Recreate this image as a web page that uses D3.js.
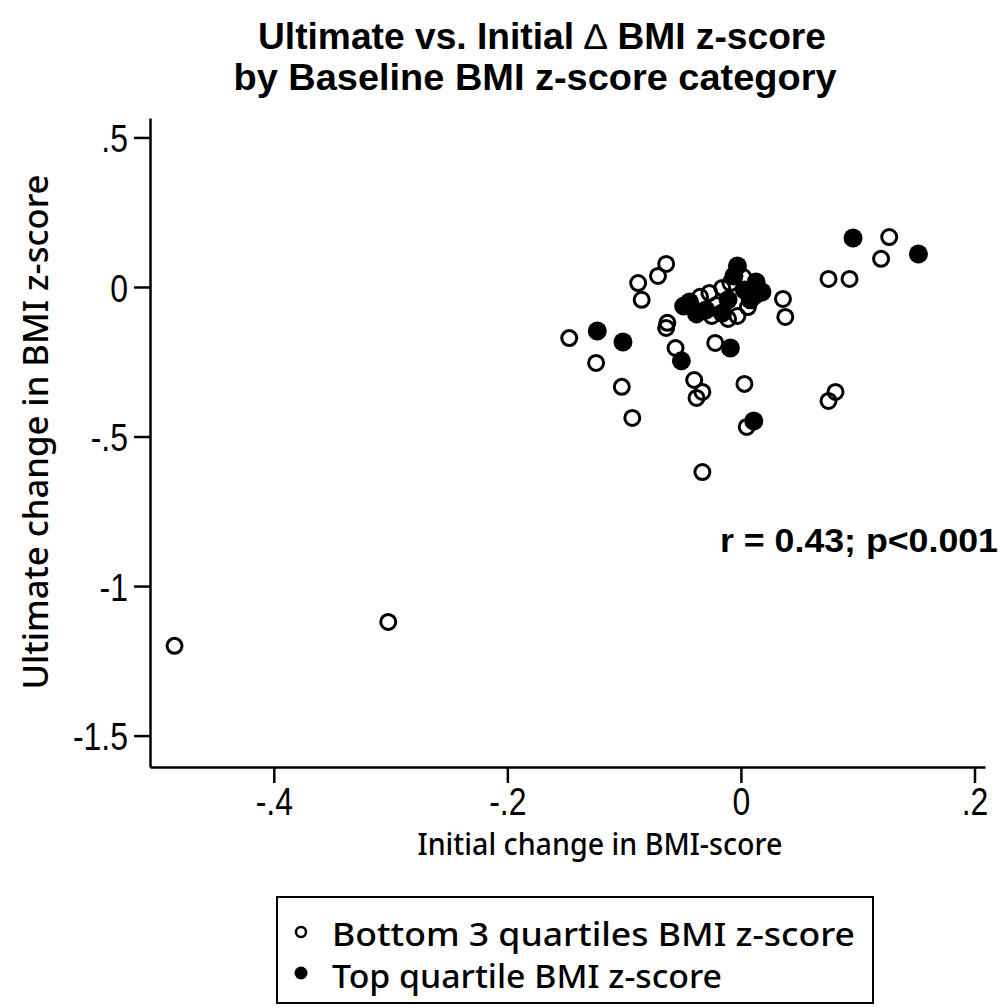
<!DOCTYPE html>
<html>
<head>
<meta charset="utf-8">
<script src="https://cdn.jsdelivr.net/npm/d3@7"></script>
<style>
  body { margin: 0; background: #fff; }
  svg { display: block; }
  .tick text { font-family: "Liberation Sans", Arial, sans-serif; font-size: 39px; fill: #000; }
  .axis path, .axis line { stroke: #000; stroke-width: 2.5; }
</style>
</head>
<body>
<div id="chart"></div>
<script>
// Bottom 3 quartiles BMI z-score (open circles)
var openX = [-0.485, -0.302, -0.147, -0.124, -0.102, -0.093, -0.088, -0.085, -0.071, -0.064,
             -0.063, -0.064, -0.056, -0.040, -0.033, -0.038, -0.033, -0.022, 0.003, 0.005,
             0.036, 0.038, 0.075, 0.093, 0.075, 0.081, 0.120, 0.127,
             -0.027, -0.035, -0.016, -0.009, 0.002, 0.006, -0.003, -0.011, -0.021, 0.012, -0.025];
var openY = [-1.20, -1.12, -0.171, -0.254, -0.334, -0.438, 0.013, -0.043, 0.037, 0.077,
             -0.120, -0.137, -0.204, -0.311, -0.351, -0.371, -0.619, -0.187, -0.324, -0.468,
             -0.040, -0.100, 0.027, 0.027, -0.381, -0.351, 0.094, 0.167,
             -0.020, -0.033, -0.003, 0.013, 0.033, -0.067, -0.097, -0.107, -0.060, -0.030, -0.097];

// Top quartile BMI z-score (filled circles)
var filledX = [-0.123, -0.101, -0.051, -0.009, 0.011, 0.096, 0.152,
               -0.003, -0.006, 0.013, 0.018, 0.003, -0.011, -0.044, -0.049, -0.038, -0.030, 0.008, -0.016];
var filledY = [-0.147, -0.184, -0.247, -0.204, -0.448, 0.164, 0.110,
               0.070, 0.037, 0.017, -0.017, -0.010, -0.043, -0.050, -0.064, -0.090, -0.077, -0.043, -0.087];

var xTicks = [-0.4, -0.2, 0, 0.2];
var yTicks = [0.5, 0, -0.5, -1, -1.5];
var legendLabels = ["Bottom 3 quartiles BMI z-score", "Top quartile BMI z-score"];

// stata style labels: .5, -.2, 0
function stataFmt(d) { return d === 0 ? "0" : String(d).replace("0.", "."); }

var svg = d3.select("#chart").append("svg")
    .attr("width", 1003)
    .attr("height", 1008);

var x = d3.scaleLinear().domain([-0.506, 0.209]).range([150, 985]);
var y = d3.scaleLinear().domain([-1.605, 0.565]).range([767, 118]);

var titleFont = '"Liberation Sans", Arial, sans-serif';
var labelFont = '"Noto Sans", "Open Sans", sans-serif';

// title
var t1 = svg.append("text")
    .attr("x", 542).attr("y", 49)
    .attr("text-anchor", "middle")
    .attr("font-family", titleFont).attr("font-weight", "bold").attr("font-size", "36px")
    .attr("textLength", 568).attr("lengthAdjust", "spacingAndGlyphs");
t1.append("tspan").text("Ultimate vs. Initial ");
t1.append("tspan").attr("font-weight", "normal").text("\u2206");
t1.append("tspan").text(" BMI z-score");

svg.append("text")
    .attr("x", 535).attr("y", 90)
    .attr("text-anchor", "middle")
    .attr("font-family", titleFont).attr("font-weight", "bold").attr("font-size", "36px")
    .attr("textLength", 603).attr("lengthAdjust", "spacingAndGlyphs")
    .text("by Baseline BMI z-score category");

// axes
var xAxis = svg.append("g")
    .attr("class", "axis")
    .attr("transform", "translate(0,767)")
    .call(d3.axisBottom(x).tickValues(xTicks).tickFormat(stataFmt).tickSize(16).tickSizeOuter(0));
xAxis.selectAll(".tick text")
    .attr("y", 48).attr("dy", 0)
    .attr("transform", "scale(0.82,1)");

var yAxis = svg.append("g")
    .attr("class", "axis")
    .attr("transform", "translate(150,0)")
    .call(d3.axisLeft(y).tickValues(yTicks).tickFormat(stataFmt).tickSize(16).tickSizeOuter(0));
yAxis.selectAll(".tick text")
    .attr("x", -22 / 0.82).attr("dy", "0.36em")
    .attr("transform", "scale(0.82,1)");

// axis titles
svg.append("text")
    .attr("x", 600).attr("y", 855)
    .attr("text-anchor", "middle")
    .attr("font-family", labelFont).attr("font-weight", 500).attr("font-size", "30px")
    .attr("textLength", 365).attr("lengthAdjust", "spacingAndGlyphs")
    .text("Initial change in BMI-score");

svg.append("text")
    .attr("transform", "translate(48,432) rotate(-90)")
    .attr("text-anchor", "middle")
    .attr("font-family", labelFont).attr("font-weight", 500).attr("font-size", "35px")
    .attr("textLength", 515).attr("lengthAdjust", "spacingAndGlyphs")
    .text("Ultimate change in BMI z-score");

// points
var openPts = openX.map(function(d, i) { return [d, openY[i]]; });
var filledPts = filledX.map(function(d, i) { return [d, filledY[i]]; });

svg.append("g").selectAll("circle")
    .data(openPts)
    .enter().append("circle")
    .attr("cx", function(d) { return x(d[0]); })
    .attr("cy", function(d) { return y(d[1]); })
    .attr("r", 7.5)
    .attr("fill", "none")
    .attr("stroke", "#000")
    .attr("stroke-width", 3);

svg.append("g").selectAll("circle")
    .data(filledPts)
    .enter().append("circle")
    .attr("cx", function(d) { return x(d[0]); })
    .attr("cy", function(d) { return y(d[1]); })
    .attr("r", 9.5)
    .attr("fill", "#000");

// correlation note
svg.append("text")
    .attr("x", 720).attr("y", 552)
    .attr("font-family", titleFont).attr("font-weight", "bold").attr("font-size", "34px")
    .attr("textLength", 278).attr("lengthAdjust", "spacingAndGlyphs")
    .text("r = 0.43; p<0.001");

// legend
var lg = svg.append("g");
lg.append("rect")
    .attr("x", 277).attr("y", 897)
    .attr("width", 596).attr("height", 106)
    .attr("fill", "none").attr("stroke", "#000").attr("stroke-width", 2);

lg.append("circle").attr("cx", 301).attr("cy", 932).attr("r", 5)
    .attr("fill", "none").attr("stroke", "#000").attr("stroke-width", 2.5);
lg.append("circle").attr("cx", 301).attr("cy", 973).attr("r", 6.5)
    .attr("fill", "#000");

var legendLen = [523, 390];
lg.selectAll(".lt")
    .data(legendLabels)
    .enter().append("text")
    .attr("class", "lt")
    .attr("x", 332)
    .attr("y", function(d, i) { return 946 + i * 42; })
    .attr("font-family", labelFont).attr("font-weight", 500).attr("font-size", "33px")
    .attr("textLength", function(d, i) { return legendLen[i]; })
    .attr("lengthAdjust", "spacingAndGlyphs")
    .text(function(d) { return d; });
</script>
</body>
</html>
